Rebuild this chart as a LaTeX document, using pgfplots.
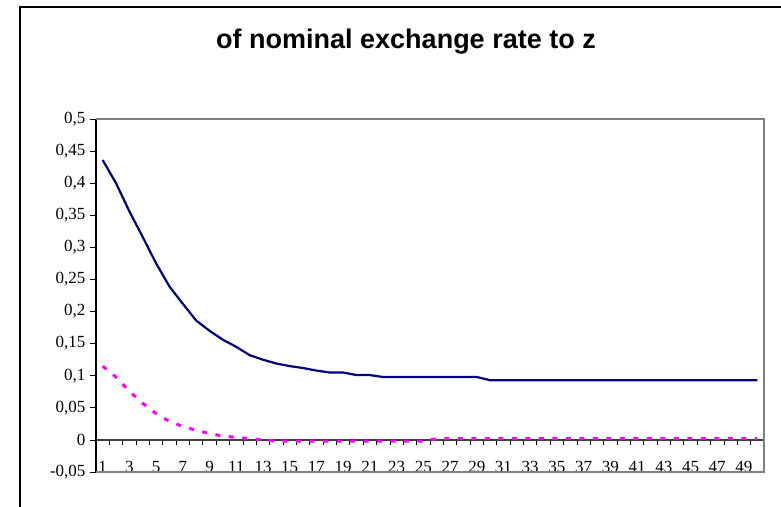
\documentclass[border=0pt]{standalone}
\usepackage{pgfplots}
\pgfplotsset{compat=1.18}
\usepackage{fontspec}
\setmainfont{Liberation Serif}
\newfontfamily\arialfont{Liberation Sans}
\definecolor{navyline}{HTML}{000080}
\definecolor{pinkline}{HTML}{FF00FF}
\definecolor{borderg}{HTML}{808080}
\newcommand\tf{\fontsize{17bp}{19bp}\selectfont}

\pgfplotstableread{
x y
1 0.436
2 0.400
3 0.356
4 0.316
5 0.275
6 0.239
7 0.212
8 0.186
9 0.170
10 0.156
11 0.145
12 0.132
13 0.125
14 0.119
15 0.115
16 0.112
17 0.108
18 0.105
19 0.105
20 0.101
21 0.101
22 0.098
23 0.098
24 0.098
25 0.098
26 0.098
27 0.098
28 0.098
29 0.098
30 0.093
31 0.093
32 0.093
33 0.093
34 0.093
35 0.093
36 0.093
37 0.093
38 0.093
39 0.093
40 0.093
41 0.093
42 0.093
43 0.093
44 0.093
45 0.093
46 0.093
47 0.093
48 0.093
49 0.093
50 0.093
}\navytab

\pgfplotstableread{
x y
1 0.115
2 0.098
3 0.076
4 0.057
5 0.041
6 0.029
7 0.021
8 0.015
9 0.010
10 0.006
11 0.004
12 0.002
13 0.000
14 -0.002
15 -0.002
16 -0.002
17 -0.002
18 -0.002
19 -0.002
20 -0.002
21 -0.002
22 -0.002
23 -0.002
24 -0.002
25 -0.002
26 0.002
27 0.002
28 0.002
29 0.002
30 0.002
31 0.002
32 0.002
33 0.002
34 0.002
35 0.002
36 0.002
37 0.002
38 0.002
39 0.002
40 0.002
41 0.002
42 0.002
43 0.002
44 0.002
45 0.002
46 0.002
47 0.002
48 0.002
49 0.002
50 0.002
}\pinktab

\begin{document}
\begin{tikzpicture}
\useasboundingbox (0,0) rectangle (781bp,507bp);
\fill[white] (0,0) rectangle (781bp,507bp);
\draw[black, line width=1.3bp] (20bp,-20bp) -- (20bp,500bp) -- (820bp,500bp);
\node[font=\arialfont\bfseries\fontsize{27bp}{31bp}\selectfont, anchor=center] at (406bp,465bp) {of nominal exchange rate to z};
\begin{axis}[
  at={(96bp,35bp)}, anchor=south west,
  scale only axis, width=668bp, height=353bp,
  xmin=0.5, xmax=50.5, ymin=-0.05, ymax=0.5,
  axis x line*=middle, axis y line*=left,
  x axis line style={-, draw=black!75, line width=1.2bp},
  y axis line style={-, draw=black, line width=1.3bp},
  xtick={1,3,...,49},
  xticklabel={\tf\pgfmathprintnumber[assume math mode=true]{\tick}},
  minor xtick={0.5,1.5,...,50.5},
  major x tick style={draw=none},
  minor x tick style={draw=black, line width=0.8bp},
  minor tick length=5bp,
  xtick align=outside,
  xticklabel style={anchor=base, yshift=-27bp},
  ytick={-0.05,0,0.05,0.1,0.15,0.2,0.25,0.3,0.35,0.4,0.45,0.5},
  yticklabels={{\tf -0,05},{\tf 0},{\tf 0,05},{\tf 0,1},{\tf 0,15},{\tf 0,2},{\tf 0,25},{\tf 0,3},{\tf 0,35},{\tf 0,4},{\tf 0,45},{\tf 0,5}},
  ytick align=outside,
  major tick length=6bp,
  y tick style={draw=black, line width=0.8bp},
  yticklabel style={xshift=-1bp},
  clip=false,
]
\draw[borderg, line width=1.8bp] (rel axis cs:0,0) -- (rel axis cs:1,0) -- (rel axis cs:1,1) -- (rel axis cs:0,1);
\addplot[navyline, line width=2.2bp, line join=round] table[x=x,y=y] {\navytab};
\addplot[pinkline, line width=3bp, dash pattern=on 5bp off 8.5bp] table[x=x,y=y] {\pinktab};
\end{axis}
\end{tikzpicture}
\end{document}
